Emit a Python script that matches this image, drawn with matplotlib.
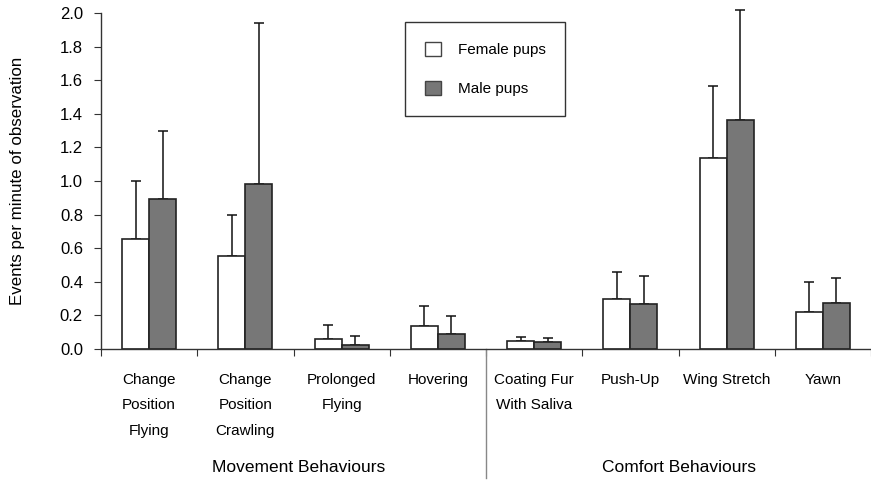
import matplotlib.pyplot as plt
from matplotlib.patches import Patch
import numpy as np

plt.rcParams['font.family'] = ['Liberation Sans', 'DejaVu Sans']

categories = ['Change\nPosition\nFlying', 'Change\nPosition\nCrawling', 'Prolonged\nFlying',
              'Hovering', 'Coating Fur\nWith Saliva', 'Push-Up', 'Wing Stretch', 'Yawn']
female = [0.655, 0.555, 0.058, 0.139, 0.050, 0.300, 1.139, 0.218]
female_upper = [1.00, 0.80, 0.141, 0.254, 0.070, 0.460, 1.567, 0.399]
male = [0.89, 0.984, 0.022, 0.087, 0.043, 0.268, 1.363, 0.272]
male_upper = [1.30, 1.94, 0.076, 0.195, 0.064, 0.432, 2.02, 0.424]
groups = ['Movement Behaviours', 'Comfort Behaviours']
yticks = [0.0, 0.2, 0.4, 0.6, 0.8, 1.0, 1.2, 1.4, 1.6, 1.8, 2.0]

fig = plt.figure(figsize=(8.71, 4.8), dpi=100)
ax = fig.add_axes([101 / 871, 1 - 349 / 480, 770 / 871, 336 / 480])

x = np.arange(len(categories))
w = 0.28
female = np.array(female)
male = np.array(male)
f_err = np.array(female_upper) - female
m_err = np.array(male_upper) - male

ax.bar(x - w / 2, female, w, color='white', edgecolor='#222222', linewidth=1.2, zorder=2)
ax.bar(x + w / 2, male, w, color='#777777', edgecolor='#222222', linewidth=1.2, zorder=2)
for xs, vals, err in [(x - w / 2, female, f_err), (x + w / 2, male, m_err)]:
    eb = ax.errorbar(xs, vals, yerr=[np.zeros_like(err), err], fmt='none', ecolor='#111111',
                     elinewidth=1.1, capsize=3.5, capthick=1.1, zorder=1)
    for art in eb.lines[1] + eb.lines[2]:
        art.set_clip_on(False)

ax.set_xlim(-0.5, len(categories) - 0.5)
ax.set_ylim(0, 2.0)
ax.set_yticks(yticks)
ax.set_yticklabels([f'{v:.1f}' for v in yticks])
ax.set_ylabel('Events per minute of observation', fontsize=12.2, labelpad=25)

ax.set_xticks(np.arange(len(categories) + 1) - 0.5)
ax.set_xticklabels([])
ax.set_xticks(x, categories, minor=True)
ax.tick_params(axis='x', which='major', direction='out', length=5, color='#333333')
ax.tick_params(axis='x', which='minor', length=0, pad=17, labelsize=11)
ax.tick_params(axis='y', direction='out', length=5, color='#333333', labelsize=12, pad=8)
for lab in ax.get_xticklabels(minor=True):
    lab.set_linespacing(2.05)
    lab.set_verticalalignment('top')

for side in ['top', 'right']:
    ax.spines[side].set_visible(False)
for side in ['left', 'bottom']:
    ax.spines[side].set_color('#333333')
    ax.spines[side].set_linewidth(1.0)

# group separator and group names
ax.plot([3.5, 3.5], [0, -0.77], color='#888888', lw=1.0, clip_on=False)
trans = ax.get_xaxis_transform()
ax.text(1.55, -0.352, groups[0], transform=trans, ha='center', va='center', fontsize=12.5)
ax.text(5.5, -0.352, groups[1], transform=trans, ha='center', va='center', fontsize=12.5)

handles = [Patch(facecolor='white', edgecolor='#444444', linewidth=1.0),
           Patch(facecolor='#777777', edgecolor='#444444', linewidth=1.0)]
leg = fig.legend(handles, ['Female pups', 'Male pups'], loc='upper left',
                 bbox_to_anchor=(405 / 871, 1 - 22 / 480), fontsize=11,
                 fancybox=False, framealpha=1, edgecolor='#333333',
                 handlelength=1.05, handleheight=1.05, handletextpad=1.1,
                 labelspacing=1.55, borderpad=1.3, borderaxespad=0)
leg.get_frame().set_linewidth(1.0)

fig.savefig('out.png', dpi=100)
